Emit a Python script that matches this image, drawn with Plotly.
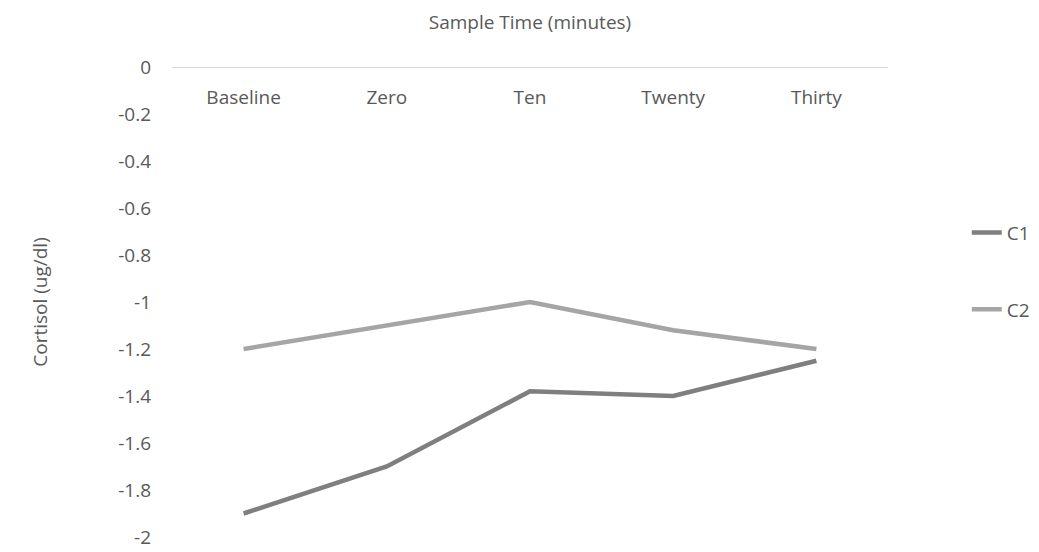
import plotly.graph_objects as go

# Sample times and cortisol change per condition
categories = ["Baseline", "Zero", "Ten", "Twenty", "Thirty"]
c1_values = [-1.9, -1.7, -1.38, -1.4, -1.25]
c2_values = [-1.2, -1.1, -1.0, -1.12, -1.2]
y_ticks = [0, -0.2, -0.4, -0.6, -0.8, -1, -1.2, -1.4, -1.6, -1.8, -2]

FONT = "Open Sans"
TEXT = "#595959"

fig = go.Figure()
fig.add_trace(go.Scatter(x=categories, y=c1_values, mode="lines", name="C1",
                         legendgroup="c1",
                         line=dict(color="#7f7f7f", width=4.5)))
fig.add_trace(go.Scatter(x=categories, y=c2_values, mode="lines", name="C2",
                         legendgroup="c2",
                         line=dict(color="#a5a5a5", width=4.5)))

fig.update_layout(
    width=1039, height=552,
    margin=dict(l=172, r=151, t=67, b=15, autoexpand=False),
    paper_bgcolor="white", plot_bgcolor="white",
    font=dict(family=FONT, size=19, color=TEXT),
    title=dict(text="Sample Time (minutes)", x=(172 + 358) / 1039,
               xanchor="center", xref="container",
               y=1 - 22 / 552, yanchor="middle", yref="container",
               font=dict(size=19, color=TEXT)),
    showlegend=True,
    legend=dict(x=1.11, y=0.688, xanchor="left", yanchor="top",
                tracegroupgap=49, font=dict(size=19, color=TEXT),
                bgcolor="rgba(0,0,0,0)"),
    xaxis=dict(
        type="category", range=[-0.5, 4.5],
        anchor="free", position=1, side="bottom",
        showline=True, linecolor="#d9d9d9", linewidth=1.3,
        showgrid=False, zeroline=False, ticks="",
        ticklabelstandoff=13,
    ),
    yaxis=dict(
        range=[-2, 0], tickvals=y_ticks,
        ticktext=[f"{v:g}" for v in y_ticks],
        showgrid=False, zeroline=False, showline=False, ticks="",
        ticklabelstandoff=20,
        title=dict(text="Cortisol (ug/dl)", standoff=65,
                   font=dict(size=19, color=TEXT)),
    ),
)

fig.write_html("out.html")
